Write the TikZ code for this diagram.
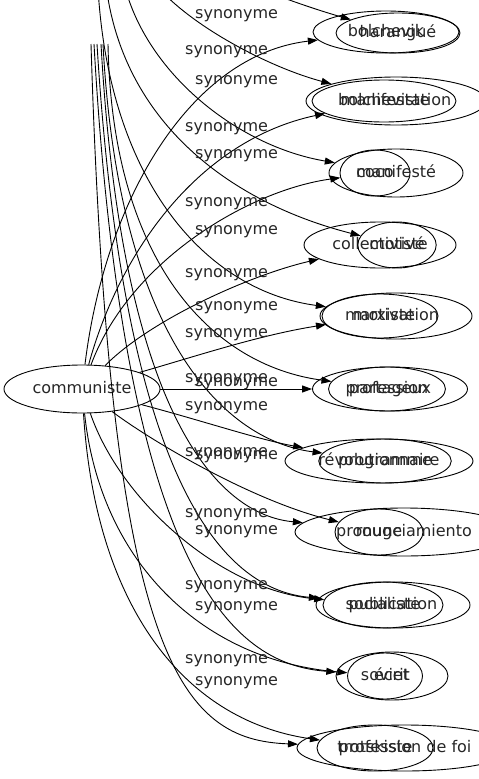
\documentclass[tikz,border=0pt]{standalone}
\usepackage{fontspec}
\setmainfont{DejaVu Sans}
\usetikzlibrary{shapes.geometric,arrows.meta}
\begin{document}
\begin{tikzpicture}[x=1pt,y=-1pt,
  word/.style={ellipse,draw,line width=0.9pt,inner sep=0pt,text height=11.5pt,text depth=3.5pt,text=black!85,font=\fontsize{16}{19}\selectfont},
  lbl/.style={font=\fontsize{16}{19}\selectfont,inner sep=0pt,text height=11.5pt,text depth=3.5pt,text=black!85,anchor=west},
  syn/.style={line width=0.9pt,-{Triangle[length=10pt,width=7pt]}}]
\useasboundingbox (0,0) rectangle (479,779);
\clip (0,0) rectangle (479,779);
% centre node
\node[word,minimum width=156pt,minimum height=48pt] (comm) at (82,389) {communiste};
% first set of words
\node[word,minimum width=146pt,minimum height=42pt] (a1) at (386,32) {bolchevik};
\node[word,minimum width=144pt,minimum height=42pt] (a2) at (384,101) {bolcheviste};
\node[word,minimum width=70pt,minimum height=46pt] (a3) at (375,173) {coco};
\node[word,minimum width=152pt,minimum height=46pt] (a4) at (380,245) {collectiviste};
\node[word,minimum width=116pt,minimum height=44pt] (a5) at (380,316) {marxiste};
\node[word,minimum width=155pt,minimum height=44pt] (a6) at (390,389) {partageux};
\node[word,minimum width=188pt,minimum height=44pt] (a7) at (379,461) {révolutionnaire};
\node[word,minimum width=88pt,minimum height=46pt] (a8) at (379,532) {rouge};
\node[word,minimum width=120pt,minimum height=46pt] (a9) at (383,605) {socialiste};
\node[word,minimum width=75pt,minimum height=46pt] (a10) at (385,676) {soviet};
\node[word,minimum width=116pt,minimum height=46pt] (a11) at (375,748) {trotskiste};
% second set of words
\node[word,minimum width=124pt,minimum height=40pt] (b1) at (398,33) {harangué};
\node[word,minimum width=180pt,minimum height=48pt] (b2) at (396,101) {manifestation};
\node[word,minimum width=134pt,minimum height=48pt] (b3) at (396,173) {manifesté};
\node[word,minimum width=76pt,minimum height=46pt] (b4) at (397,245) {motivé};
\node[word,minimum width=152pt,minimum height=46pt] (b5) at (396,316) {motivation};
\node[word,minimum width=116pt,minimum height=44pt] (b6) at (387,389) {profession};
\node[word,minimum width=126pt,minimum height=44pt] (b7) at (385,461) {programme};
\node[word,minimum width=218pt,minimum height=48pt] (b8) at (404,532) {pronunciamiento};
\node[word,minimum width=154pt,minimum height=46pt] (b9) at (393,605) {publication};
\node[word,minimum width=112pt,minimum height=48pt] (b10) at (392,676) {écrit};
\node[word,minimum width=216pt,minimum height=46pt] (b11) at (405,748) {profession de foi};
% free ends of the second set of connectors
\coordinate (s1) at (235,-20);
\coordinate (s2) at (140,-40);
\coordinate (s3) at (120,-40);
\coordinate (s4) at (104,-40);
\coordinate (s5) at (97,-40);
\coordinate (s6) at (108,44);
\coordinate (s7) at (103,44);
\coordinate (s8) at (101,44);
\coordinate (s9) at (97,44);
\coordinate (s10) at (94,44);
\coordinate (s11) at (91,44);
% connectors from communiste
\draw[syn] (comm) .. controls (105,200) and (190,55) .. (a1);
\draw[syn] (comm) .. controls (120,250) and (200,140) .. (a2);
\draw[syn] (comm) .. controls (130,260) and (250,190) .. (a3);
\draw[syn] (comm) .. controls (150,320) and (250,275) .. (a4);
\draw[syn] (comm) .. controls (200,355) and (260,335) .. (a5);
\draw[syn] (comm) -- (a6);
\draw[syn] (comm) .. controls (200,420) and (260,440) .. (a7);
\draw[syn] (comm) .. controls (150,440) and (250,500) .. (a8);
\draw[syn] (comm) .. controls (120,500) and (220,590) .. (a9);
\draw[syn] (comm) .. controls (100,560) and (200,660) .. (a10);
\draw[syn] (comm) .. controls (95,600) and (180,720) .. (a11);
% second set of connectors
\draw[syn] (s1) .. controls (275,-5) and (310,8) .. (b1);
\draw[syn] (s2) .. controls (160,10) and (260,65) .. (b2);
\draw[syn] (s3) .. controls (130,60) and (230,145) .. (b3);
\draw[syn] (s4) .. controls (110,110) and (220,200) .. (b4);
\draw[syn] (s5) .. controls (100,170) and (200,290) .. (b5);
\draw[syn] (s6) .. controls (112,260) and (210,365) .. (b6);
\draw[syn] (s7) .. controls (118,330) and (220,440) .. (b7);
\draw[syn] (s8) .. controls (122,420) and (220,515) .. (b8);
\draw[syn] (s9) .. controls (125,500) and (230,590) .. (b9);
\draw[syn] (s10) .. controls (125,590) and (240,665) .. (b10);
\draw[syn] (s11) .. controls (110,660) and (180,740) .. (b11);
% labels of the connectors from communiste
\node[lbl] (la1) at (185,50) {synonyme};
\node[lbl] (la2) at (185,127) {synonyme};
\node[lbl] (la3) at (185,202) {synonyme};
\node[lbl] (la4) at (185,273) {synonyme};
\node[lbl] (la5) at (185,333) {synonyme};
\node[lbl] (la6) at (185,378) {synonyme};
\node[lbl] (la7) at (185,406) {synonyme};
\node[lbl] (la8) at (185,452) {synonyme};
\node[lbl] (la9) at (185,513) {synonyme};
\node[lbl] (la10) at (185,585) {synonyme};
\node[lbl] (la11) at (185,659) {synonyme};
% labels of the second set
\node[lbl] (lb2) at (195,15) {synonyme};
\node[lbl] (lb3) at (195,80) {synonyme};
\node[lbl] (lb4) at (195,154) {synonyme};
\node[lbl] (lb5) at (195,230) {synonyme};
\node[lbl] (lb6) at (195,306) {synonyme};
\node[lbl] (lb7) at (195,382) {synonyme};
\node[lbl] (lb8) at (195,455) {synonyme};
\node[lbl] (lb9) at (195,530) {synonyme};
\node[lbl] (lb10) at (195,606) {synonyme};
\node[lbl] (lb11) at (195,681) {synonyme};
\end{tikzpicture}
\end{document}
